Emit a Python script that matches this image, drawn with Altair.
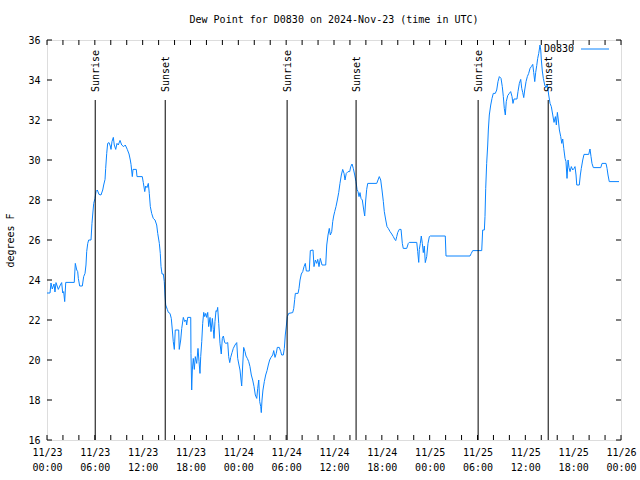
import altair as alt
import pandas as pd
import numpy as np

# Dew point trace: hours since 2024-11-23 00:00 UTC, and degrees F
hours = [
    0.00, 0.38, 0.50, 0.66, 0.88, 1.00, 1.13, 1.42, 1.67, 1.84, 1.97, 2.09, 2.22, 2.35, 3.42, 3.55, 3.73, 3.85, 3.93, 4.10,
    4.43, 4.60, 4.77, 4.89, 4.98, 5.11, 5.23, 5.52, 5.64, 5.73, 5.86, 6.02, 6.15, 6.31, 6.52, 6.77, 6.99, 7.11, 7.28, 7.36,
    7.49, 7.61, 7.78, 7.94, 8.03, 8.15, 8.32, 8.44, 8.62, 8.78, 8.94, 9.16, 9.37, 9.62, 9.82, 10.07, 10.29, 10.45, 10.54, 10.70,
    10.79, 11.20, 11.29, 11.95, 12.08, 12.26, 12.38, 12.54, 12.71, 12.83, 12.96, 13.13, 13.33, 13.55, 13.76, 13.89, 14.09, 14.21, 14.30, 14.43,
    14.59, 14.71, 14.80, 14.89, 15.09, 15.22, 15.43, 15.59, 15.72, 15.84, 15.97, 16.09, 16.52, 16.59, 16.77, 16.90, 17.10, 17.27, 17.44, 17.52,
    17.65, 18.03, 18.06, 18.15, 18.23, 18.35, 18.48, 18.60, 18.78, 18.94, 19.07, 19.19, 19.28, 19.41, 19.53, 19.66, 19.78, 19.91, 20.03, 20.16,
    20.28, 20.45, 20.57, 20.74, 20.86, 20.95, 21.07, 21.20, 21.32, 21.41, 21.54, 21.70, 21.86, 21.99, 22.12, 22.29, 22.45, 22.67, 22.79, 22.92,
    23.04, 23.21, 23.37, 23.58, 23.80, 23.92, 24.08, 24.21, 24.34, 24.42, 24.55, 24.67, 24.84, 24.96, 25.13, 25.30, 25.46, 25.63, 25.80, 25.97,
    26.13, 26.31, 26.43, 26.56, 26.68, 26.81, 26.88, 26.97, 27.09, 27.26, 27.43, 27.60, 27.76, 27.93, 28.10, 28.31, 28.44, 28.60, 28.76, 28.89,
    29.14, 29.32, 29.44, 29.64, 29.77, 29.89, 30.02, 30.14, 30.32, 30.82, 30.95, 31.07, 31.15, 31.49, 31.61, 31.74, 31.90, 32.08, 32.24, 32.40,
    32.53, 32.90, 33.03, 33.37, 33.49, 33.66, 33.83, 33.96, 34.12, 34.28, 34.50, 34.96, 35.09, 35.25, 35.41, 35.54, 35.71, 35.84, 35.96, 36.09,
    36.25, 36.42, 36.59, 36.75, 36.92, 37.09, 37.26, 37.38, 37.54, 37.76, 37.97, 38.10, 38.26, 38.42, 38.60, 38.76, 38.89, 39.01, 39.14, 39.26,
    39.39, 39.55, 39.73, 39.85, 39.98, 40.10, 40.23, 41.36, 41.52, 41.68, 41.86, 42.02, 42.19, 42.31, 42.49, 42.65, 42.81, 43.03, 43.24, 43.44,
    43.62, 43.74, 43.87, 43.99, 44.19, 44.41, 44.57, 44.69, 45.12, 45.32, 45.44, 46.38, 46.50, 46.63, 46.70, 46.83, 46.95, 47.08, 47.20, 47.33,
    47.45, 47.63, 47.79, 47.96, 48.08, 49.96, 50.05, 53.06, 53.22, 53.40, 54.53, 54.65, 54.86, 54.94, 55.03, 55.15, 55.28, 55.36, 55.48, 55.66,
    55.82, 55.98, 56.23, 56.41, 56.57, 56.74, 56.95, 57.11, 57.24, 57.36, 57.49, 57.61, 57.79, 57.99, 58.16, 58.33, 58.45, 58.58, 58.95, 59.08,
    59.25, 59.42, 59.55, 59.67, 59.80, 59.92, 60.09, 60.25, 60.42, 60.59, 60.75, 60.93, 61.05, 61.18, 61.30, 61.43, 61.55, 61.68, 61.84, 61.93,
    62.01, 62.13, 62.26, 62.43, 62.59, 62.76, 62.93, 63.10, 63.26, 63.44, 63.60, 63.77, 63.89, 64.02, 64.14, 64.27, 64.44, 64.57, 64.69, 64.82,
    64.98, 65.10, 65.23, 65.36, 65.48, 65.61, 65.77, 65.94, 66.11, 66.23, 66.36, 66.45, 66.77, 66.90, 67.02, 67.20, 67.36, 67.95, 68.11, 68.24,
    68.36, 68.53, 69.46, 69.62, 70.12, 70.25, 70.37, 70.53, 71.75,
]
dew_point = [
    23.35, 23.35, 23.85, 23.55, 23.80, 23.40, 23.87, 23.53, 23.75, 23.87, 23.35, 23.42, 22.92, 23.88, 23.88, 24.83, 24.50, 24.42, 24.08, 23.70,
    23.70, 24.17, 24.33, 24.75, 25.42, 25.83, 26.00, 26.00, 26.83, 27.25, 27.83, 28.08, 28.42, 28.50, 28.28, 28.25, 28.50, 28.75, 29.03, 29.58,
    30.33, 30.83, 30.87, 30.70, 30.53, 30.92, 31.13, 30.75, 30.53, 30.83, 30.75, 30.98, 30.75, 30.67, 30.75, 30.53, 30.30, 30.00, 29.78, 29.17,
    29.53, 29.53, 29.17, 29.17, 28.87, 28.42, 28.70, 28.62, 28.83, 28.33, 27.67, 27.33, 27.08, 27.00, 26.75, 26.33, 25.83, 25.33, 24.67, 24.30,
    24.30, 23.92, 23.25, 22.75, 22.53, 22.38, 22.33, 22.08, 21.50, 20.92, 20.53, 21.50, 21.50, 20.53, 21.00, 21.58, 22.13, 21.92, 22.00, 21.75,
    22.13, 22.13, 20.33, 18.50, 19.50, 20.08, 19.53, 20.17, 19.83, 20.58, 19.92, 19.33, 20.17, 20.92, 21.83, 22.38, 22.17, 22.33, 22.13, 22.38,
    21.67, 22.13, 21.42, 22.08, 21.53, 21.08, 21.92, 22.47, 22.43, 22.63, 21.83, 20.83, 20.30, 21.08, 21.20, 20.87, 20.83, 20.87, 20.17, 19.87,
    20.13, 20.37, 20.58, 20.75, 20.87, 20.08, 19.75, 19.50, 19.00, 18.70, 19.75, 20.63, 20.42, 20.20, 20.08, 19.92, 19.67, 19.25, 19.00, 18.67,
    18.25, 18.08, 18.58, 19.00, 17.92, 17.67, 17.37, 18.00, 18.50, 18.92, 19.25, 19.47, 19.75, 20.00, 20.13, 20.25, 20.47, 20.13, 20.33, 20.63,
    20.63, 20.42, 20.25, 20.25, 20.58, 21.25, 21.70, 22.17, 22.33, 22.37, 22.58, 23.03, 23.33, 23.33, 23.58, 24.00, 24.30, 24.42, 24.67, 24.83,
    24.45, 24.45, 25.47, 25.50, 24.67, 25.00, 24.83, 25.03, 24.67, 25.08, 24.75, 24.75, 25.75, 26.25, 26.58, 26.25, 26.42, 26.92, 27.20, 27.42,
    27.67, 28.00, 28.37, 28.83, 29.25, 29.53, 29.33, 29.00, 29.33, 29.42, 29.42, 29.67, 29.80, 29.58, 29.25, 28.92, 28.53, 28.42, 28.17, 28.37,
    28.08, 28.00, 27.50, 27.20, 28.00, 28.53, 28.83, 28.83, 29.00, 29.17, 29.00, 28.50, 27.92, 27.42, 27.00, 26.67, 26.58, 26.42, 26.30, 26.17,
    26.03, 25.97, 26.17, 26.37, 26.53, 26.53, 25.83, 25.58, 25.58, 25.83, 25.88, 25.88, 25.42, 24.88, 25.53, 25.83, 26.20, 25.83, 25.37, 25.70,
    24.87, 25.17, 25.83, 26.17, 26.20, 26.20, 25.20, 25.20, 25.33, 25.47, 25.47, 26.50, 26.50, 27.17, 28.58, 29.83, 30.75, 31.50, 32.25, 32.75,
    33.08, 33.33, 33.33, 33.50, 33.92, 34.17, 34.08, 33.67, 33.17, 32.58, 32.25, 32.92, 33.22, 33.33, 33.42, 33.17, 32.83, 33.05, 33.05, 33.42,
    33.83, 34.03, 33.58, 33.38, 33.12, 33.50, 33.92, 34.17, 34.33, 34.58, 34.67, 34.78, 34.38, 33.92, 34.38, 34.72, 35.08, 35.33, 35.75, 35.50,
    35.00, 34.45, 34.08, 33.75, 33.62, 33.78, 33.25, 32.83, 32.67, 32.25, 31.88, 32.17, 31.75, 32.38, 32.00, 31.50, 31.17, 30.83, 31.05, 30.58,
    30.08, 29.92, 29.08, 30.00, 29.62, 29.42, 29.67, 29.50, 29.58, 29.67, 29.25, 28.75, 28.75, 29.25, 29.58, 30.00, 30.28, 30.28, 30.55, 30.17,
    29.83, 29.62, 29.62, 29.83, 29.83, 29.58, 29.25, 28.92, 28.92,
]

sun_hours = [6.05, 14.83, 30.12, 38.77, 54.08, 62.87]
sun_labels = ["Sunrise", "Sunset", "Sunrise", "Sunset", "Sunrise", "Sunset"]

x_label_hours = list(range(0, 73, 6))
x_tick_hours = list(range(0, 73, 2))
y_ticks = list(range(16, 37, 2))

base = pd.Timestamp("2024-11-23T00:00:00Z")
def to_time(h):
    return [base + pd.Timedelta(hours=float(v)) for v in h]

df = pd.DataFrame({"time": to_time(hours), "dew": dew_point})
sun = pd.DataFrame({"time": to_time(sun_hours), "label": sun_labels})
xt = pd.DataFrame({"time": to_time(x_tick_hours)})
yt = pd.DataFrame({"v": y_ticks})

ms = lambda h: int((base + pd.Timedelta(hours=h)).timestamp() * 1000)
x_values = [ms(h) for h in x_label_hours]

FONT = "DejaVu Sans Mono"
W, H = 574, 400

xscale = alt.Scale(type="utc", domain=[ms(0), ms(72)], nice=False)
yscale = alt.Scale(domain=[16, 36], nice=False, zero=False)

xaxis = alt.Axis(values=x_values, title=None, grid=False, domain=False, ticks=False,
                 labelExpr="[utcFormat(datum.value, '%m/%d'), utcFormat(datum.value, '%H:%M')]",
                 labelFlush=False, labelOverlap=False, labelPadding=7, labelLineHeight=15,
                 labelFont=FONT, labelFontSize=10, labelColor="black")
yaxis = alt.Axis(values=y_ticks, title="degrees F", grid=False, domain=False, ticks=False,
                 labelOverlap=False, labelFlush=False, tickCount=11,
                 labelPadding=7, labelFont=FONT, labelFontSize=10, labelColor="black",
                 titleFont=FONT, titleFontSize=10, titleFontWeight="normal", titleColor="black",
                 titleAngle=270, titleAlign="center", titleBaseline="middle", titleX=-37, titleY=200)

line = alt.Chart(df).mark_line(color="#0a84ff", strokeWidth=1, clip=True).encode(
    x=alt.X("time:T", scale=xscale, axis=xaxis),
    y=alt.Y("dew:Q", scale=yscale, axis=yaxis),
)

sun_rules = alt.Chart(sun).mark_rule(color="black", strokeWidth=1).encode(
    x=alt.X("time:T", scale=xscale, axis=xaxis),
    y=alt.datum(16, scale=yscale, axis=yaxis), y2=alt.datum(33),
)
sun_text = alt.Chart(sun).mark_text(angle=270, align="left", baseline="middle", dy=1,
                                    font=FONT, fontSize=10, color="black").encode(
    x=alt.X("time:T", scale=xscale, axis=xaxis),
    y=alt.datum(33.4, scale=yscale, axis=yaxis),
    text="label:N",
)

xt_bottom = alt.Chart(xt).mark_rule(color="black").encode(
    x=alt.X("time:T", scale=xscale, axis=xaxis), y=alt.value(H), y2=alt.value(H - 5))
xt_top = alt.Chart(xt).mark_rule(color="black").encode(
    x=alt.X("time:T", scale=xscale, axis=xaxis), y=alt.value(0), y2=alt.value(5))
yt_left = alt.Chart(yt).mark_rule(color="black").encode(
    y=alt.Y("v:Q", scale=yscale, axis=yaxis), x=alt.value(0), x2=alt.value(5))
yt_right = alt.Chart(yt).mark_rule(color="black").encode(
    y=alt.Y("v:Q", scale=yscale, axis=yaxis), x=alt.value(W), x2=alt.value(W - 5))

leg = pd.DataFrame({"name": ["D0830"]})
leg_text = alt.Chart(leg).mark_text(align="right", baseline="middle", font=FONT, fontSize=10,
                                    color="black").encode(
    x=alt.value(527), y=alt.value(9), text="name:N")
leg_line = alt.Chart(leg).mark_rule(color="#0a84ff", strokeWidth=1).encode(
    x=alt.value(534), x2=alt.value(562), y=alt.value(9))

chart = alt.layer(
    line, xt_bottom, xt_top, yt_left, yt_right, sun_rules, sun_text, leg_text, leg_line
).properties(
    width=W, height=H,
    title=alt.TitleParams("Dew Point for D0830 on 2024-Nov-23 (time in UTC)", font=FONT,
                          fontSize=10, fontWeight="normal", color="black", anchor="middle", offset=10),
    autosize=alt.AutoSizeParams(type="none"),
    padding={"left": 47, "top": 40, "right": 19, "bottom": 40},
).configure_view(stroke="black", strokeWidth=1).configure_axis(
    labelOverlap=False
).configure(background="white")

chart.save("out.html", embed_options={"renderer": "svg", "actions": False})
